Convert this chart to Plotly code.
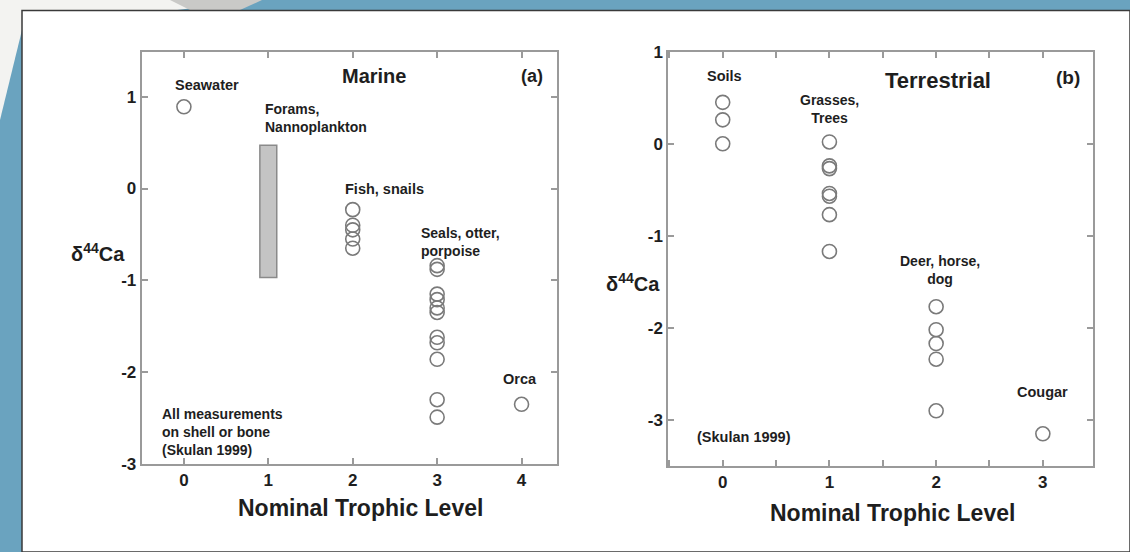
import plotly.graph_objects as go

# ---------------- data ----------------
# Marine (panel a)
seawater_x = [0]
seawater_y = [0.89]
forams_x = [1]
forams_low = -0.97
forams_high = 0.47
fish_x = [2, 2, 2, 2, 2]
fish_y = [-0.23, -0.40, -0.45, -0.55, -0.65]
seals_x = [3] * 11
seals_y = [-0.84, -0.88, -1.15, -1.21, -1.30, -1.35, -1.62, -1.68, -1.86, -2.30, -2.49]
orca_x = [4]
orca_y = [-2.35]

# Terrestrial (panel b)
soils_x = [0, 0, 0]
soils_y = [0.45, 0.26, 0.0]
grasses_x = [1] * 7
grasses_y = [0.02, -0.24, -0.27, -0.54, -0.57, -0.77, -1.17]
deer_x = [2] * 5
deer_y = [-1.77, -2.02, -2.17, -2.34, -2.90]
cougar_x = [3]
cougar_y = [-3.15]

marine_xticks = [0, 1, 2, 3, 4]
marine_xlabels = ["0", "1", "2", "3", "4"]
marine_yticks = [-3, -2, -1, 0, 1]
marine_ylabels = ["-3", "-2", "-1", "0", "1"]
terr_xticks = [0, 1, 2, 3]
terr_xlabels = ["0", "1", "2", "3"]
terr_yticks = [-3, -2, -1, 0, 1]
terr_ylabels = ["-3", "-2", "-1", "0", "1"]

W, H = 1130, 552
FONT = "Arial, 'Liberation Sans', sans-serif"
MK = dict(symbol="circle-open", size=14, color="#7a7a7a", line=dict(width=1.6, color="#7a7a7a"))

fig = go.Figure()

for xs, ys in [(seawater_x, seawater_y), (fish_x, fish_y), (seals_x, seals_y), (orca_x, orca_y)]:
    fig.add_trace(go.Scatter(x=xs, y=ys, mode="markers", marker=MK, xaxis="x", yaxis="y",
                             showlegend=False, hoverinfo="x+y"))

fig.add_trace(go.Bar(x=forams_x, y=[forams_high - forams_low], base=[forams_low], width=0.2,
                     marker=dict(color="#c4c4c4", line=dict(color="#8a8a8a", width=1.5)),
                     xaxis="x", yaxis="y", showlegend=False))

for xs, ys in [(soils_x, soils_y), (grasses_x, grasses_y), (deer_x, deer_y), (cougar_x, cougar_y)]:
    fig.add_trace(go.Scatter(x=xs, y=ys, mode="markers", marker=MK, xaxis="x2", yaxis="y2",
                             showlegend=False, hoverinfo="x+y"))

def px(x):
    return x / W

def py(y):
    return 1 - y / H

axis_common = dict(showline=True, linecolor="#9a9a9a", linewidth=2, mirror="ticks",
                   ticks="inside", ticklen=6, tickwidth=1.5, tickcolor="#9a9a9a",
                   showgrid=False, zeroline=False, automargin=False,
                   tickfont=dict(family=FONT, size=17, color="#1e1e1e", weight="bold"))

fig.update_layout(
    width=W, height=H,
    margin=dict(l=0, r=0, t=0, b=0),
    paper_bgcolor="#f3f3f1", plot_bgcolor="rgba(0,0,0,0)",
    showlegend=False,
    xaxis=dict(domain=[px(141.7), px(557)], range=[-0.5, 4.42], tickvals=marine_xticks,
               ticktext=marine_xlabels, anchor="y", **axis_common),
    yaxis=dict(domain=[py(464), py(51.7)], range=[-3, 1.49], tickvals=marine_yticks,
               ticktext=marine_ylabels, anchor="x", **axis_common),
    xaxis2=dict(domain=[px(668.3), px(1093)], range=[-0.51, 3.47], tickvals=terr_xticks,
                ticktext=terr_xlabels, anchor="y2",
                minor=dict(dtick=0.5, tick0=0, ticks="inside", ticklen=6,
                           tickwidth=1.5, tickcolor="#9a9a9a"),
                **axis_common),
    yaxis2=dict(domain=[py(466), py(51.7)], range=[-3.5, 1.0], tickvals=terr_yticks,
                ticktext=terr_ylabels, anchor="x2", **axis_common),
)

# ---------------- background decoration ----------------
shapes = []
shapes.append(dict(type="path", xref="paper", yref="paper", layer="below",
                   path=f"M {px(255)},{py(0)} L 1,{py(0)} L 1,0 L 0,0 L 0,{py(120)} L {px(22)},{py(30)} Z",
                   fillcolor="#6aa3bf", line=dict(width=0)))
shapes.append(dict(type="path", xref="paper", yref="paper", layer="below",
                   path=f"M {px(170)},{py(0)} L {px(262)},{py(0)} L {px(240)},{py(10)} L {px(190)},{py(10)} Z",
                   fillcolor="#c9c9c7", line=dict(width=0)))
shapes.append(dict(type="rect", xref="paper", yref="paper", layer="below",
                   x0=px(22), x1=1.0, y0=0, y1=py(10.5),
                   fillcolor="#ffffff", line=dict(color="#3a3a3a", width=1.5)))
fig.update_layout(shapes=shapes)

# ---------------- annotations ----------------
LS = 14

def lab(text, x, y, xref, yref, size=LS, xanchor="center", align="center"):
    return dict(text=text, x=x, y=y, xref=xref, yref=yref, showarrow=False,
                xanchor=xanchor, yanchor="middle", align=align,
                font=dict(family=FONT, size=size, color="#1e1e1e", weight="bold"))

ann = []
# panel a
ann.append(lab("Seawater", 0.27, 1.13, "x", "y", size=14.5))
ann.append(lab("Marine", 2.25, 1.22, "x", "y", size=20))
ann.append(lab("(a)", 4.12, 1.22, "x", "y", size=18))
ann.append(lab("Forams,<br>Nannoplankton", 0.94, 0.765, "x", "y", xanchor="left", align="left"))
ann.append(lab("Fish, snails", 1.88, 0.0, "x", "y", xanchor="left", align="left", size=14.5))
ann.append(lab("Seals, otter,<br>porpoise", 2.79, -0.58, "x", "y", xanchor="left", align="left"))
ann.append(lab("Orca", 3.98, -2.07, "x", "y", size=14.5))
ann.append(lab("All measurements<br>on shell or bone<br>(Skulan 1999)", -0.28, -2.655, "x", "y",
               xanchor="left", align="left"))
# panel b
ann.append(lab("Soils", 0.02, 0.74, "x2", "y2", size=14.5))
ann.append(lab("Terrestrial", 2.02, 0.69, "x2", "y2", size=22))
ann.append(lab("(b)", 3.24, 0.72, "x2", "y2", size=19))
ann.append(lab("Grasses,<br>Trees", 1.0, 0.38, "x2", "y2"))
ann.append(lab("Deer, horse,<br>dog", 2.04, -1.375, "x2", "y2"))
ann.append(lab("Cougar", 3.0, -2.70, "x2", "y2", size=14.5))
ann.append(lab("(Skulan 1999)", 0.2, -3.18, "x2", "y2", size=14.5))
# axis titles
ann.append(lab("Nominal Trophic Level", px(360), py(508), "paper", "paper", size=23))
ann.append(lab("Nominal Trophic Level", px(892), py(513), "paper", "paper", size=23))
ycap = "δ<sup>44</sup>Ca"
ann.append(lab(ycap, px(98), py(252), "paper", "paper", size=20))
ann.append(lab(ycap, px(633), py(282), "paper", "paper", size=20))
fig.update_layout(annotations=ann)

fig.write_html("out.html", config={"displayModeBar": False},
               post_script="document.body.style.margin='0px';")
